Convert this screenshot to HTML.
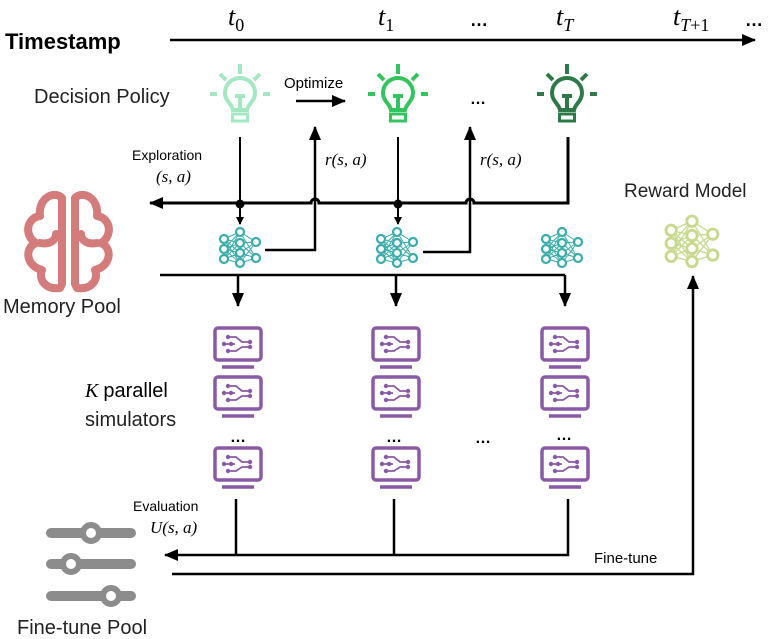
<!DOCTYPE html>
<html><head><meta charset="utf-8"><style>
html,body{margin:0;padding:0;background:#fff;}
svg{display:block;}
.s{font-family:"Liberation Sans",sans-serif;}
.m{font-family:"Liberation Serif",serif;font-style:italic;}
</style></head><body>
<svg width="773" height="639" viewBox="0 0 773 639" xmlns="http://www.w3.org/2000/svg">
<defs>
<marker id="ah" markerWidth="8" markerHeight="8" refX="7" refY="4" orient="auto" markerUnits="userSpaceOnUse"><path d="M0,0 L8,4 L0,8 z" fill="#000"/></marker>
<marker id="ab" markerWidth="14" markerHeight="12" refX="13" refY="6" orient="auto" markerUnits="userSpaceOnUse"><path d="M0,0 L14,6 L0,12 z" fill="#000"/></marker>
<g id="bulb" fill="none" stroke-width="4" stroke-linecap="butt">
<line x1="0" y1="-30" x2="0" y2="-20"/>
<line x1="-20" y1="-20" x2="-14" y2="-14"/>
<line x1="20" y1="-20" x2="14" y2="-14"/>
<line x1="-30" y1="0" x2="-23" y2="0"/>
<line x1="30" y1="0" x2="23" y2="0"/>
<path d="M-7,16 C-8,10 -15,7 -15,-1 A15,15 0 1 1 15,-1 C15,7 8,10 7,16 Z"/>
<line x1="-5" y1="2" x2="5" y2="2"/>
<line x1="0" y1="2" x2="0" y2="14"/>
<rect x="-7.5" y="20" width="15" height="7" stroke-width="3"/>
</g>
<g id="nn" fill="none" stroke-width="2.2">
<g stroke-width="1">
<path d="M-16,-9 L0,-16 M-16,-9 L0,-5 M-16,-9 L0,5 M-16,-9 L0,15 M-16,1 L0,-16 M-16,1 L0,-5 M-16,1 L0,5 M-16,1 L0,15 M-16,11 L0,-16 M-16,11 L0,-5 M-16,11 L0,5 M-16,11 L0,15 M0,-16 L16,-6 M0,-5 L16,-6 M0,5 L16,-6 M0,15 L16,-6 M0,-16 L16,10 M0,-5 L16,10 M0,5 L16,10 M0,15 L16,10"/>
</g>
<g fill="#fff">
<circle cx="-16" cy="-9" r="4"/><circle cx="-16" cy="1" r="4"/><circle cx="-16" cy="11" r="4"/>
<circle cx="0" cy="-16" r="4"/><circle cx="0" cy="-5" r="4"/><circle cx="0" cy="5" r="4"/><circle cx="0" cy="15" r="4"/>
<circle cx="16" cy="-6" r="4"/><circle cx="16" cy="10" r="4"/>
</g>
</g>
<g id="sim" fill="none" stroke="#8a5aa6" stroke-width="3.5">
<rect x="-23" y="-17" width="46" height="32" rx="3"/>
<line x1="-16" y1="22" x2="16" y2="22"/>
<g stroke-width="1.8"><path d="M-10,-8 L-2,-8 L4,-3 L12,-3 M-14,-1 L-3,-1 M-10,6 L-2,6 L4,2 L12,2"/></g>
<g fill="#8a5aa6" stroke="none"><circle cx="-10" cy="-8" r="2.2"/><circle cx="12" cy="-3" r="2.2"/><circle cx="-14" cy="-1" r="2.2"/><circle cx="-7" cy="-1" r="2.2"/><circle cx="-10" cy="6" r="2.2"/><circle cx="12" cy="2" r="2.2"/></g>
</g>
</defs>

<text x="5" y="49" class="s" font-size="22" font-weight="bold">Timestamp</text>
<line x1="170" y1="40" x2="755" y2="40" stroke="#000" stroke-width="2.5" marker-end="url(#ab)"/>
<text x="228" y="25" class="m" font-size="26">t<tspan font-size="18" font-style="normal" dy="6">0</tspan></text>
<text x="378" y="25" class="m" font-size="26">t<tspan font-size="18" font-style="normal" dy="6">1</tspan></text>
<text x="470" y="26" class="s" font-size="18" font-weight="bold">…</text>
<text x="556" y="25" class="m" font-size="26">t<tspan font-size="18" dy="6">T</tspan></text>
<text x="673" y="25" class="m" font-size="26">t<tspan font-size="18" dy="6">T<tspan font-style="normal">+1</tspan></tspan></text>
<text x="745" y="26" class="s" font-size="18" font-weight="bold">…</text>

<text x="34" y="103" class="s" font-size="20" fill="#222">Decision Policy</text>
<use href="#bulb" x="240" y="94" stroke="#a3e8c0"/>
<use href="#bulb" x="398" y="94" stroke="#34c35c"/>
<use href="#bulb" x="567" y="94" stroke="#2d7a48"/>
<text x="284" y="88" class="s" font-size="15">Optimize</text>
<line x1="296" y1="101" x2="345" y2="101" stroke="#000" stroke-width="2.5" marker-end="url(#ab)"/>
<text x="470" y="104" class="s" font-size="16" font-weight="bold">…</text>

<text x="132" y="160" class="s" font-size="14">Exploration</text>
<text x="156" y="182" class="m" font-size="17">(s, a)</text>
<text x="325" y="165" class="m" font-size="17">r(s, a)</text>
<text x="480" y="165" class="m" font-size="17">r(s, a)</text>

<path d="M568,137 L568,203 L474,203 a4,4 0 0 0 -4,-4 a4,4 0 0 0 -4,4 L319,203 a4,4 0 0 0 -4,-4 a4,4 0 0 0 -4,4 L150,203" fill="none" stroke="#000" stroke-width="3" marker-end="url(#ab)"/>
<line x1="240" y1="137" x2="240" y2="224" stroke="#000" stroke-width="2" marker-end="url(#ah)"/>
<line x1="398" y1="137" x2="398" y2="224" stroke="#000" stroke-width="2" marker-end="url(#ah)"/>
<circle cx="240" cy="204" r="4.5"/><circle cx="398" cy="204" r="4.5"/>
<path d="M265,250 L315,250 L315,127" fill="none" stroke="#000" stroke-width="2.5" marker-end="url(#ab)"/>
<path d="M423,252 L470,252 L470,127" fill="none" stroke="#000" stroke-width="2.5" marker-end="url(#ab)"/>

<use href="#nn" x="240" y="248" stroke="#3aacaa"/>
<use href="#nn" x="397" y="248" stroke="#3aacaa"/>
<use href="#nn" x="562" y="248" stroke="#3aacaa"/>
<g transform="translate(692,242) scale(1.3)"><use href="#nn" stroke="#c8d98e"/></g>
<text x="624" y="197" class="s" font-size="19" fill="#222">Reward Model</text>

<g fill="none" stroke="#d47b7b" stroke-width="8" stroke-linecap="round" stroke-linejoin="round">
<path d="M60,288 C46,290 38,280 42,270 C26,266 24,248 36,243 C24,236 26,218 40,216 C38,198 54,190 62,198 L62,284 Z"/>
<path d="M77,288 C91,290 99,280 95,270 C111,266 113,248 101,243 C113,236 111,218 97,216 C99,198 83,190 75,198 L75,284 Z"/>
<path d="M40,243 C50,245 56,240 56,234 M97,243 C87,245 81,240 81,234"/>
</g>
<text x="3" y="313" class="s" font-size="20" fill="#222">Memory Pool</text>

<path d="M160,275 L565,275" stroke="#000" stroke-width="2.5"/>
<line x1="238" y1="275" x2="238" y2="306" stroke="#000" stroke-width="2.5" marker-end="url(#ab)"/>
<line x1="396" y1="275" x2="396" y2="306" stroke="#000" stroke-width="2.5" marker-end="url(#ab)"/>
<line x1="565" y1="275" x2="565" y2="306" stroke="#000" stroke-width="2.5" marker-end="url(#ab)"/>

<g>
<use href="#sim" x="238" y="345"/><use href="#sim" x="238" y="394"/><use href="#sim" x="238" y="465"/>
<use href="#sim" x="396" y="345"/><use href="#sim" x="396" y="394"/><use href="#sim" x="396" y="465"/>
<use href="#sim" x="565" y="345"/><use href="#sim" x="565" y="394"/><use href="#sim" x="565" y="465"/>
</g>
<text x="230" y="442" class="s" font-size="16" font-weight="bold">…</text>
<text x="386" y="442" class="s" font-size="16" font-weight="bold">…</text>
<text x="475" y="443" class="s" font-size="16" font-weight="bold">…</text>
<text x="556" y="440" class="s" font-size="16" font-weight="bold">…</text>

<text x="85" y="397" class="m" font-size="20">K <tspan class="s" font-style="normal" font-family="Liberation Sans">parallel</tspan></text>
<text x="85" y="426" class="s" font-size="20" fill="#222">simulators</text>

<text x="133" y="511" class="s" font-size="14">Evaluation</text>
<text x="150" y="533" class="m" font-size="17">U(s, a)</text>

<path d="M568,499 L568,555 L165,555" fill="none" stroke="#000" stroke-width="2.5" marker-end="url(#ab)"/>
<line x1="236" y1="499" x2="236" y2="555" stroke="#000" stroke-width="2.5"/>
<line x1="394" y1="499" x2="394" y2="555" stroke="#000" stroke-width="2.5"/>
<path d="M172,574 L693,574 L693,276" fill="none" stroke="#000" stroke-width="2.5" marker-end="url(#ab)"/>
<text x="594" y="563" class="s" font-size="15">Fine-tune</text>

<g stroke="#8c8c8c" stroke-width="10" stroke-linecap="round" fill="#fff">
<line x1="51" y1="533" x2="131" y2="533"/><line x1="51" y1="564" x2="131" y2="564"/><line x1="51" y1="596" x2="131" y2="596"/>
<circle cx="91" cy="533" r="8" stroke-width="6"/><circle cx="71" cy="564" r="8" stroke-width="6"/><circle cx="111" cy="596" r="8" stroke-width="6"/>
</g>
<text x="17" y="634" class="s" font-size="20" fill="#222">Fine-tune Pool</text>
</svg>
</body></html>
